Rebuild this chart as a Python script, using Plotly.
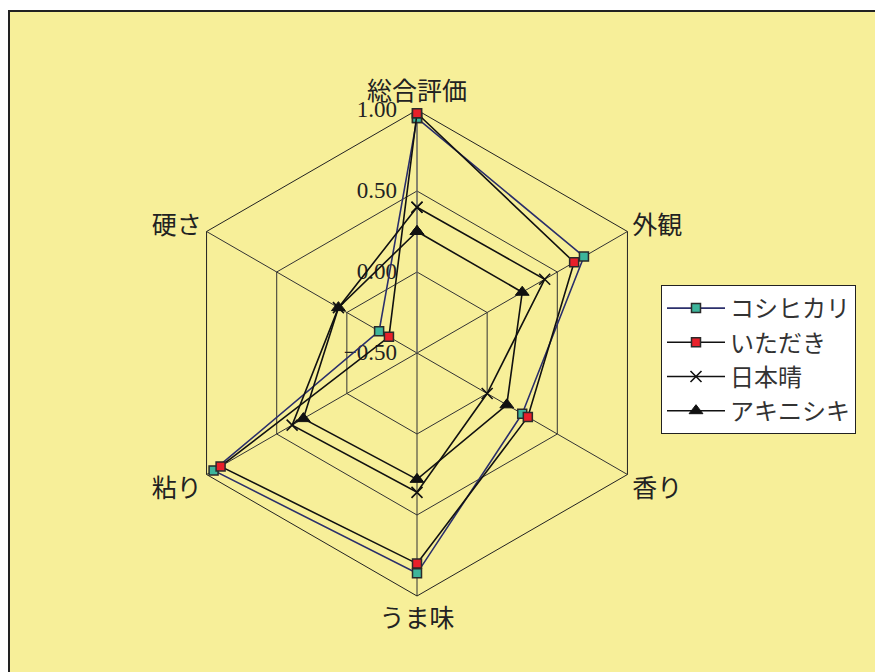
import plotly.graph_objects as go

# axes (clockwise from top)
categories = ['総合評価', '外観', '香り', 'うま味', '粘り', '硬さ']

koshihikari = [0.95, 0.69, 0.25, 0.86, 0.95, -0.23]
itadaki = [0.98, 0.62, 0.29, 0.80, 0.90, -0.30]
nihonbare = [0.40, 0.41, 0.00, 0.36, 0.39, 0.06]
akinishiki = [0.25, 0.25, 0.14, 0.28, 0.31, 0.06]

radial_ticks = [-0.5, 0.0, 0.5, 1.0]
radial_labels = ['−0.50', '0.00', '0.50', '1.00']

OFF = 8  # the page body keeps an 8px margin
W, H = 883 - OFF, 672 - OFF
CX, CY, R = 417 - OFF, 353 - OFF, 243
BG = '#F7EF99'
CJK = 'Noto Sans CJK JP'
RANGE = [-0.5, 1.0]


def fx(px):
    return px / W


def fy(py):
    return 1 - py / H


def closed(vals):
    return vals + vals[:1]


theta = closed(categories)
domain = dict(x=[fx(CX - R), fx(CX + R)], y=[fy(CY + R), fy(CY - R)])

series = [
    ('コシヒカリ', koshihikari, '#2B2F6B', dict(symbol='square', size=9, color='#3DB59B',
                                              line=dict(color='#2a2a2a', width=1.5))),
    ('いただき', itadaki, '#111111', dict(symbol='square', size=9, color='#E8202A',
                                         line=dict(color='#2a2a2a', width=1.5))),
    ('日本晴', nihonbare, '#111111', dict(symbol='x-thin', size=11, color='#111111',
                                        line=dict(color='#111111', width=1.6))),
    ('アキニシキ', akinishiki, '#111111', dict(symbol='triangle-up', size=12, color='#111111',
                                           line=dict(color='#111111', width=1))),
]

fig = go.Figure()

# hexagonal grid subplot: an invisible outer ring sets up the categories
fig.add_trace(go.Scatterpolar(
    r=[RANGE[1]] * len(theta), theta=theta, mode='lines', subplot='polar',
    line=dict(width=0), showlegend=False, hoverinfo='skip',
))

# data sit on an overlaid round subplot (markers vanish on the linear one)
for name, vals, lc, mk in series:
    fig.add_trace(go.Scatterpolar(
        r=closed(vals), theta=theta, name=name, mode='lines+markers',
        line=dict(color=lc, width=1.6), marker=mk, subplot='polar2',
    ))

fig.update_layout(
    width=W, height=H,
    margin=dict(l=0, r=0, t=0, b=0, autoexpand=False),
    paper_bgcolor='white',
    font=dict(family=CJK, size=24, color='#222222'),
    polar=dict(
        bgcolor='rgba(0,0,0,0)',
        gridshape='linear',
        domain=domain,
        angularaxis=dict(
            direction='clockwise', rotation=90,
            showline=True, linecolor='#222222', linewidth=1,
            gridcolor='#333333',
            ticks='', tickfont=dict(family=CJK, size=25, color='#222222'),
        ),
        radialaxis=dict(
            range=RANGE, angle=90, tickangle=90,
            tickvals=radial_ticks,
            ticktext=[t + '\u00a0\u00a0' for t in radial_labels],
            showline=True, linecolor='#777777', linewidth=1,
            gridcolor='#333333', ticks='',
            tickfont=dict(family='Liberation Serif', size=23, color='#222222'),
            side='counterclockwise',
        ),
    ),
    polar2=dict(
        bgcolor='rgba(0,0,0,0)',
        domain=domain,
        angularaxis=dict(direction='clockwise', rotation=90, showline=False,
                         showgrid=False, showticklabels=False, ticks=''),
        radialaxis=dict(range=RANGE, showline=False, showgrid=False,
                        showticklabels=False, ticks=''),
    ),
    legend=dict(
        x=fx(661 - OFF), y=fy(285 - OFF), xanchor='left', yanchor='top',
        bgcolor='white', bordercolor='#222222', borderwidth=1,
        itemwidth=58,
        font=dict(family=CJK, size=24, color='#333333'),
    ),
    shapes=[dict(
        type='rect', xref='paper', yref='paper', layer='below',
        x0=fx(1), x1=1.05, y0=-0.05, y1=fy(11 - OFF),
        fillcolor=BG, line=dict(color='#222222', width=2),
    )],
)

fig.write_html('out.html')
